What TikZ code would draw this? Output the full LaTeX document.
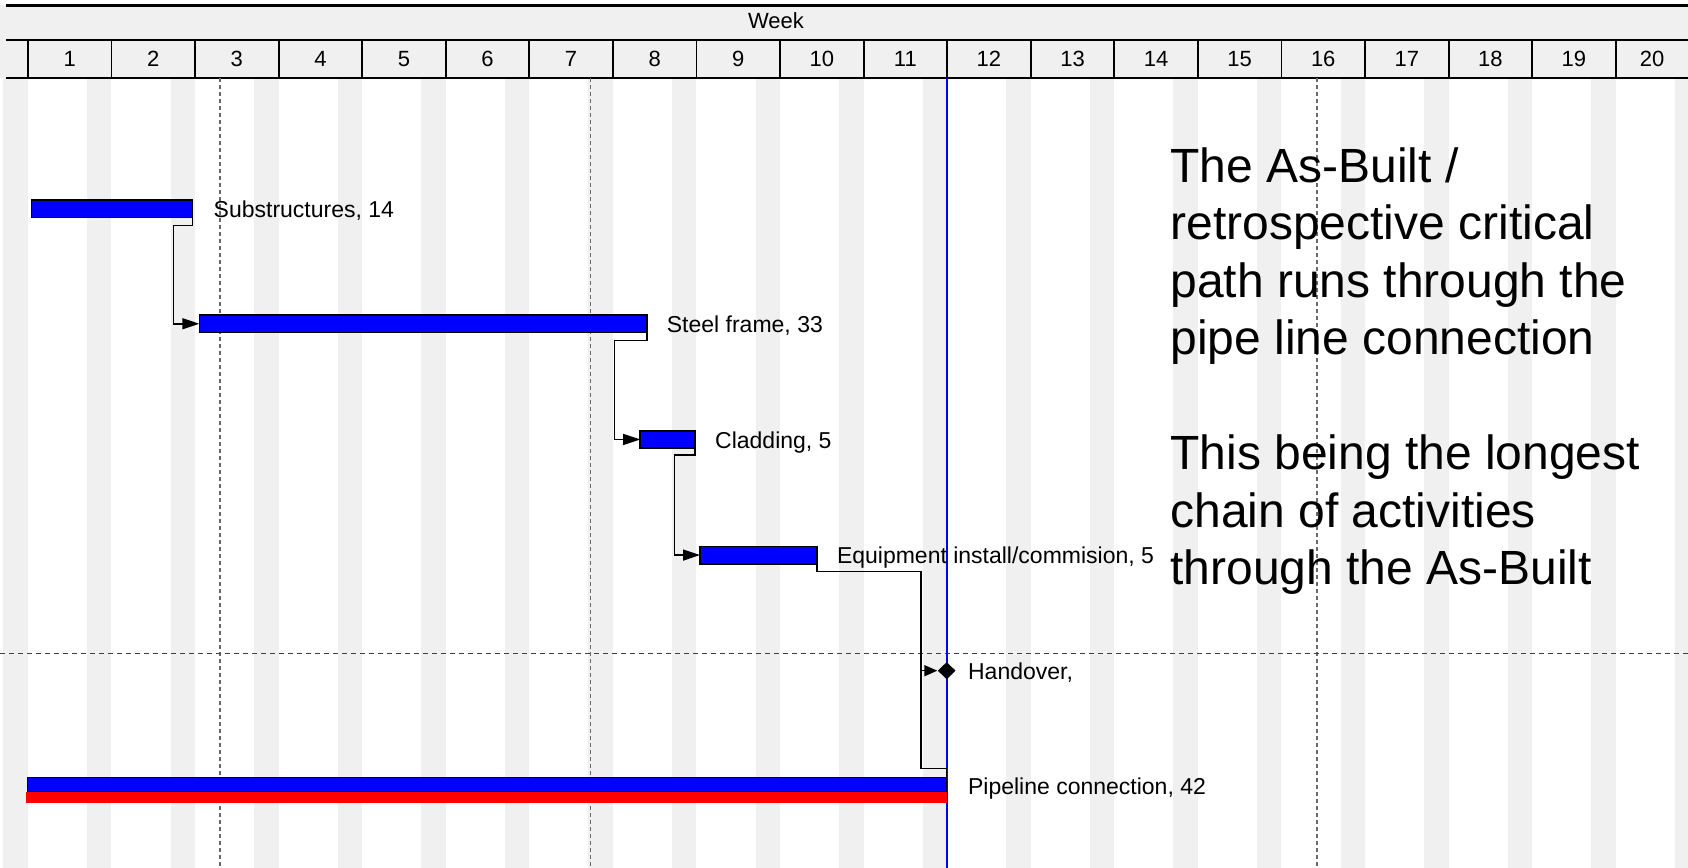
\documentclass[tikz,border=0pt]{standalone}
\usepackage{fontspec}
\setmainfont{Liberation Sans}
\usetikzlibrary{arrows.meta,shapes.geometric}
\definecolor{stripe}{HTML}{F0F0F0}
\definecolor{barblue}{HTML}{0000FF}
\definecolor{barred}{HTML}{FF0000}
\definecolor{dashgray}{HTML}{6A6A6A}
\begin{document}
\begin{tikzpicture}[x=0.5pt,y=-0.5pt,
  hdrtxt/.style={anchor=base, inner sep=0, font=\fontsize{11}{13}\selectfont},
  bar/.style={draw=black, fill=barblue, line width=0.8pt, inner sep=0, outer sep=0, anchor=north west, minimum height=8.75pt},
  conn/.style={draw=black, line width=0.75pt},
  arr/.style={-{Triangle[length=8.5pt,width=5.5pt]}},
  harr/.style={-{Triangle[length=6.5pt,width=5.5pt]}},
  lbl/.style={anchor=base west, inner sep=0, font=\fontsize{11.5}{13.5}\selectfont},
  vdash/.style={draw=dashgray, line width=0.55pt, dash pattern=on 2pt off 1.5pt},
  hdash/.style={draw=black!75, line width=0.5pt, dash pattern=on 2.25pt off 2.25pt},
  dataline/.style={draw=barblue, line width=1pt},
  bigtxt/.style={anchor=north west, inner sep=0, align=left, font=\fontsize{24}{28.75}\selectfont}
]
\useasboundingbox (0,0) rectangle (1688,868);
\fill[white] (0,0) rectangle (1688,868);
% weekend stripes
\foreach \k in {0,...,20}
  \fill[stripe] ({27.9+83.57*\k-24.5},78) rectangle ({27.9+83.57*\k},868);
% header
\fill[stripe] (0,5) rectangle (1688,78);
\draw[line width=1.5pt] (6,5) -- (1688,5);
\draw[line width=0.8pt] (6,40) -- (1688,40);
\draw[line width=1pt] (6,78) -- (1688,78);
\foreach \k in {0,...,19}
  \draw[line width=0.9pt] ({27.9+83.57*\k},40) -- ({27.9+83.57*\k},78);
\node[hdrtxt] (week) at (776,28.3) {Week};
\foreach \k in {1,...,19}
  \node[hdrtxt] (n\k) at ({27.9+83.57*(\k-0.5)},66.7) {\k};
\node[hdrtxt] (n20) at (1652,66.7) {20};
% dashed progress lines
\draw[vdash] (220,78) -- (220,868);
\draw[vdash] (590.5,78) -- (590.5,868);
\draw[vdash] (1317,78) -- (1317,868);
\draw[hdash] (0,653.3) -- (1688,653.3);
% data date
\draw[dataline] (946.5,78) -- (946.5,868);
% bars
\node[bar, minimum width=80.45pt] (sub) at (31.4,200) {};
\node[bar, minimum width=223.85pt] (steel) at (199.3,315) {};
\node[bar, minimum width=27.45pt] (clad) at (640.2,430.7) {};
\node[bar, minimum width=58.5pt] (equip) at (700,546.3) {};
\node[bar, minimum width=459.45pt, minimum height=7.2pt] (pipe) at (27.6,777.3) {};
\node[fill=barred, inner sep=0, outer sep=0, anchor=north west, minimum width=460.25pt, minimum height=5.8pt] (pipered) at (26,791.7) {};
\node[diamond, fill=black, inner sep=0, minimum width=9pt, minimum height=8.75pt] (hand) at (946.7,670.7) {};
% connectors
\draw[conn,arr] (sub.south east) -- ++(0,8) -- ++(-19,0) |- (steel.west);
\draw[conn,arr] (steel.south east) -- ++(0,8) -- ++(-32.7,0) |- (clad.west);
\draw[conn,arr] (clad.south east) -- ++(0,7) -- ++(-20.6,0) |- (equip.west);
\draw[conn] (equip.south east) -- ++(0,7.5) -- ++(104,0) coordinate (eqv);
\draw[conn,harr] (eqv) |- (hand.west);
\draw[conn] (eqv) |- ([yshift=4.3pt]pipe.north east) -- (pipe.north east);
% labels
\node[lbl] (lsub) at (213.3,217.5) {Substructures, 14};
\node[lbl] (lsteel) at (666.5,332.5) {Steel frame, 33};
\node[lbl] (lclad) at (714.8,448) {Cladding, 5};
\node[lbl] (lequip) at (836.6,563.3) {Equipment install/commision, 5};
\node[lbl] (lhand) at (967.7,679.3) {Handover,};
\node[lbl] (lpipe) at (967.7,794) {Pipeline connection, 42};
% commentary
\node[bigtxt] (note) at (1170,147) {The As-Built /\\retrospective critical\\path runs through the\\pipe line connection\\[28.75pt]This being the longest\\chain of activities\\through the As-Built};
\end{tikzpicture}
\end{document}
